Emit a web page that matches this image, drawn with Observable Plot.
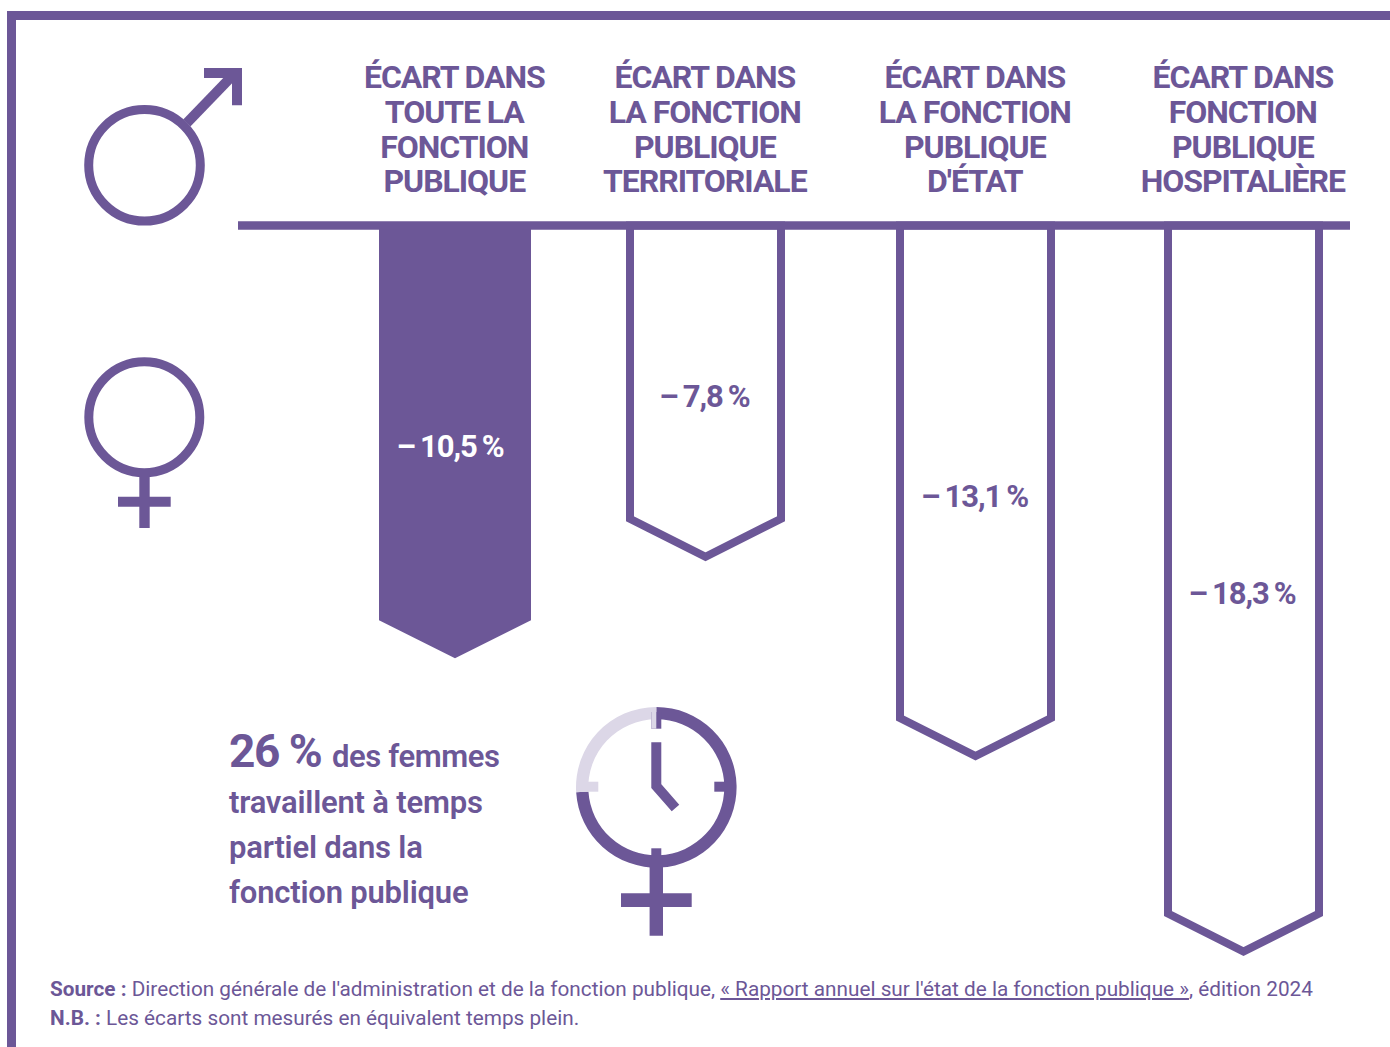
<!DOCTYPE html>
<html lang="fr">
<head>
<meta charset="utf-8">
<script src="https://cdn.jsdelivr.net/npm/d3@7"></script>
<script src="https://cdn.jsdelivr.net/npm/@observablehq/plot@0.6"></script>
<style>
html,body{margin:0;padding:0;background:#fff;overflow:hidden;width:1390px;height:1047px}
#frame{position:absolute;left:7px;top:11px;width:1383px;height:1036px;border-left:9px solid #6C5797;border-top:9px solid #6C5797;box-sizing:border-box}
#chart{position:absolute;left:0;top:0}
#chart svg{background:transparent!important;overflow:visible}
#notes{position:absolute;left:50px;top:975px;font:400 20.75px/29px Roboto,sans-serif;color:#6C5797;white-space:nowrap}
#notes b{font-weight:700}
#notes u{text-underline-offset:2px}
.head{letter-spacing:-1.05px}
.val{letter-spacing:-1.1px;word-spacing:-1.5px}
.big{letter-spacing:-1.5px}
.lead{letter-spacing:-.4px}
.para{letter-spacing:-.2px}
</style>
</head>
<body>
<div id="frame"></div>
<div id="chart"></div>
<div id="notes"><b>Source :</b> Direction générale de l'administration et de la fonction publique, <u>« Rapport annuel sur l'état de la fonction publique »</u>, édition 2024<br><b>N.B. :</b> Les écarts sont mesurés en équivalent temps plein.</div>
<script>
const purple = "#6C5797", pale = "#DCD7E7";
const categories = ["toute", "territoriale", "etat", "hospitaliere"];
const headings = [
  "ÉCART DANS\nTOUTE LA\nFONCTION\nPUBLIQUE",
  "ÉCART DANS\nLA FONCTION\nPUBLIQUE\nTERRITORIALE",
  "ÉCART DANS\nLA FONCTION\nPUBLIQUE\nD'ÉTAT",
  "ÉCART DANS\nFONCTION\nPUBLIQUE\nHOSPITALIÈRE"
];
const gaps = [10.5, 7.8, 13.1, 18.3];
const gapLabels = ["– 10,5 %", "– 7,8 %", "– 13,1 %", "– 18,3 %"];
const partTimeShare = 26;

// layout, separate from the values
const centers = [455, 705.5, 975.5, 1243.5];
const labelShift = [-5, -1, -1, -1.5];
const halfWidth = 75.5, tip = 1.01; // tip depth, in percentage points

const bars = categories.flatMap((c, i) => {
  const x = centers[i], v = gaps[i], hw = i === 0 ? 76 : halfWidth;
  return [[x - hw, 0], [x + hw, 0], [x + hw, v], [x, v + tip], [x - hw, v]]
    .map(([px, val]) => ({cat: c, px, val}));
});
const rows = categories.map((c, i) => ({
  cat: c, x: centers[i], v: gaps[i], head: headings[i], label: gapLabels[i], shift: labelShift[i]
}));
const seg = (pts, w, color = purple) => Plot.line(pts.map(([x, yy]) => ({x, yy})), {
  x: "x", y: "yy", stroke: color, strokeWidth: w, strokeLinecap: "butt", strokeLinejoin: "miter", strokeMiterlimit: 10
});

// Plot adds a half-pixel offset to marks; the scale ranges take it back
const y0 = 225.5, pxPerPoint = 37.6;
const py = p => (p - y0) / pxPerPoint;
const pseg = (pts, w, color) => seg(pts.map(([x, p]) => [x, py(p)]), w, color);
const ring = (cx, cy, r, w) => Plot.dot([{cx, cy: py(cy)}], {x: "cx", y: "cy", r, stroke: purple, strokeWidth: w, fill: "none"});

function clockArc(index, scales, values, dim, ctx) {
  const g = d3.select(ctx.document.createElementNS("http://www.w3.org/2000/svg", "g"));
  const cx = 656.3, cy = 787.3;
  const split = 2 * Math.PI * (1 - partTimeShare / 100);
  const arc = d3.arc().innerRadius(68).outerRadius(80.3);
  g.append("path").attr("transform", `translate(${cx},${cy})`).attr("fill", purple)
    .attr("d", arc({startAngle: 0, endAngle: split}));
  g.append("path").attr("transform", `translate(${cx},${cy})`).attr("fill", pale)
    .attr("d", arc({startAngle: split, endAngle: 2 * Math.PI}));
  return g.node();
}

const textBase = {fontFamily: "Roboto, sans-serif", fill: purple};
const noteLines = [
  {t: "travaillent à temps", p: 812.5},
  {t: "partiel dans la", p: 857.5},
  {t: "fonction publique", p: 902.5}
];

const plot = Plot.plot({
  width: 1390, height: 970,
  marginTop: 0, marginRight: 0, marginBottom: 0, marginLeft: 0,
  style: {background: "transparent"},
  x: {type: "linear", domain: [0, 1390], range: [-0.5, 1389.5], axis: null},
  y: {type: "linear", domain: [0, 18.3], range: [y0 - 0.5, y0 - 0.5 + 18.3 * pxPerPoint], axis: null},
  marks: [
    Plot.line(bars.filter(d => d.cat === categories[0]), {
      x: "px", y: "val", z: "cat", curve: "linear-closed", fill: purple, stroke: "none"
    }),
    Plot.line(bars.filter(d => d.cat !== categories[0]), {
      x: "px", y: "val", z: "cat", curve: "linear-closed", fill: "white", stroke: purple,
      strokeWidth: 8, strokeLinejoin: "miter", strokeMiterlimit: 10
    }),
    Plot.ruleY([0], {x1: 238.5, x2: 1350.5, stroke: purple, strokeWidth: 8.7}),
    // headings
    Plot.text(rows, {
      ...textBase, x: "x", text: "head", frameAnchor: "top", lineAnchor: "top",
      dx: -0.7, dy: 63, fontSize: 32, fontWeight: 700, lineHeight: 1.085, className: "head"
    }),
    // values
    Plot.text(rows.filter(r => r.cat === categories[0]), {
      ...textBase, x: d => d.x + d.shift, y: d => d.v / 2, dy: 24.5, text: "label",
      fontSize: 31, fontWeight: 700, fill: "white", lineAnchor: "middle", className: "val"
    }),
    Plot.text(rows.filter(r => r.cat !== categories[0]), {
      ...textBase, x: d => d.x + d.shift, y: d => d.v / 2, dy: 25, text: "label",
      fontSize: 31, fontWeight: 700, lineAnchor: "middle", className: "val"
    }),
    // male symbol
    ring(144.5, 165.3, 55.8, 9),
    pseg([[186.8, 123], [236, 72]], 10),
    pseg([[204, 73], [237, 73], [237, 105.3]], 10),
    // female symbol
    ring(144.3, 417.3, 55.5, 9),
    pseg([[144.5, 475], [144.5, 528]], 10.4),
    pseg([[118, 501.7], [170.7, 501.7]], 10),
    // clock-female symbol
    clockArc,
    pseg([[656.3, 712], [656.3, 728.7]], 10, purple),
    pseg([[653.8, 712], [653.8, 728.7]], 5, pale),
    pseg([[585, 786.7], [598.3, 786.7]], 10, pale),
    pseg([[714.3, 786.7], [728, 786.7]], 10, purple),
    pseg([[656.3, 848.3], [656.3, 860]], 10, purple),
    pseg([[656.3, 742.3], [656.3, 786], [675.5, 808]], 10),
    pseg([[656.3, 862], [656.3, 935.7]], 13.4),
    pseg([[621, 900.2], [691.7, 900.2]], 13.7),
    // part-time text
    Plot.text([`${partTimeShare} %`], {
      ...textBase, x: () => 229, y: () => py(766.5), text: d => d, textAnchor: "start", lineAnchor: "bottom",
      fontSize: 46, fontWeight: 700, className: "big"
    }),
    Plot.text(["des femmes"], {
      ...textBase, x: () => 332, y: () => py(766.5), text: d => d, textAnchor: "start", lineAnchor: "bottom",
      fontSize: 31, fontWeight: 600, className: "lead"
    }),
    Plot.text(noteLines, {
      ...textBase, x: () => 229, y: d => py(d.p), text: "t", textAnchor: "start", lineAnchor: "bottom",
      fontSize: 31, fontWeight: 600, className: "para"
    })
  ]
});
document.getElementById("chart").append(plot);
</script>
</body>
</html>
